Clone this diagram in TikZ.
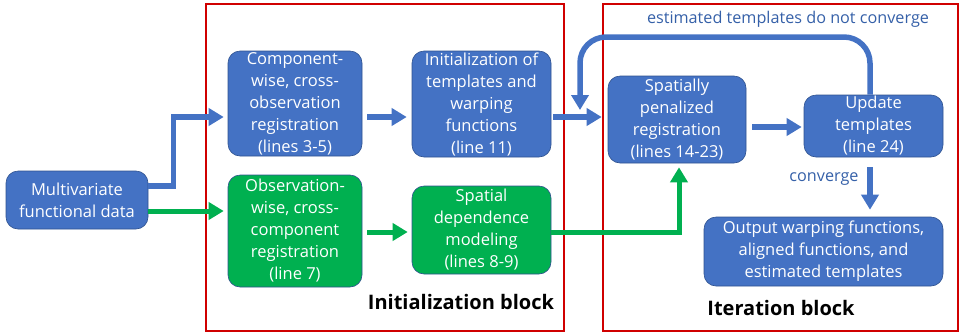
\documentclass[tikz,border=0pt]{standalone}
\usepackage{fontspec}
\setmainfont{Open Sans}
\usetikzlibrary{arrows.meta,calc}
\definecolor{oblue}{HTML}{4472C4}
\definecolor{oedge}{HTML}{2F528F}
\definecolor{ogreen}{HTML}{00B050}
\definecolor{ored}{HTML}{D00000}
\definecolor{otext}{HTML}{3560A8}
\tikzset{
  bx/.style={draw=oedge, line width=0.6pt, rounded corners=12pt, text=white, align=center, inner sep=0pt,
    font=\fontsize{16.5}{22}\selectfont},
  bbox/.style={bx, fill=oblue},
  gbox/.style={bx, fill=ogreen},
  barrow/.style={draw=oblue, line width=5.5pt, -{Triangle[length=15pt,width=17pt]}},
  garrow/.style={draw=ogreen, line width=5pt, -{Triangle[length=15pt,width=17pt]}},
  blockframe/.style={draw=ored, line width=1.8pt},
  blocktitle/.style={font=\fontsize{20}{24}\selectfont\bfseries, text=black},
  lbl/.style={text=otext, font=\fontsize{16.2}{20}\selectfont}
}
\begin{document}
\begin{tikzpicture}[x=1pt,y=-1pt]
\useasboundingbox (0,0) rectangle (959,333);
% frames
\draw[blockframe] (206,4) rectangle (564,331);
\draw[blockframe] (603,4) rectangle (958,331);
\node[blocktitle] (t1) at (461,302) {Initialization block};
\node[blocktitle] (t2) at (781,308) {Iteration block};
% boxes
\node[bbox, minimum width=142pt, minimum height=58pt] (mv) at (77,200) {Multivariate\\functional data};
\node[bbox, minimum width=134pt, minimum height=105pt] (comp) at (295,103.5) {Component-\\wise, cross-\\observation\\registration\\(lines 3-5)};
\node[bbox, minimum width=139pt, minimum height=106pt] (init) at (481.5,104) {Initialization of\\templates and\\warping\\functions\\(line 11)};
\node[gbox, minimum width=134pt, minimum height=112pt] (obs) at (295,231) {Observation-\\wise, cross-\\component\\registration\\(line 7)};
\node[gbox, minimum width=139pt, minimum height=88pt] (sd) at (481.5,230) {Spatial\\dependence\\modeling\\(lines 8-9)};
\node[bbox, minimum width=138pt, minimum height=87pt] (sp) at (677,119.5) {Spatially\\penalized\\registration\\(lines 14-23)};
\node[bbox, minimum width=139pt, minimum height=62pt] (up) at (873.5,126) {Update\\templates\\(line 24)};
\node[bbox, minimum width=239pt, minimum height=69pt] (out) at (823.5,251.5) {Output warping functions,\\aligned functions, and\\estimated templates};
% labels
\node[lbl] (l1) at (788,19) {estimated templates do not converge};
\node[lbl] (l2) at (824,179) {converge};
% connectors
\coordinate (b1) at ([yshift=14pt]mv.east);
\draw[barrow, shorten >=4pt] (b1) -- ++(25,0) |- ([yshift=-13.5pt]comp.west);
\coordinate (g1) at ([yshift=-11pt]mv.east);
\draw[garrow, shorten >=4pt] (g1) -- (g1 -| obs.west);
\coordinate (b2) at ([yshift=-13.5pt]comp.east);
\draw[barrow, shorten <=5pt, shorten >=5pt] (b2) -- (b2 -| init.west);
\coordinate (b3) at ([yshift=-13pt]init.east);
\draw[barrow, shorten <=2pt, shorten >=6pt] (b3) -- (b3 -| sp.west);
\coordinate (g2) at ([yshift=-1pt]obs.east);
\draw[garrow, shorten <=5pt, shorten >=4pt] (g2) -- (g2 -| sd.west);
\coordinate (g3) at ([yshift=-2pt]sd.east);
\draw[garrow, shorten >=4pt] (g3) -| ([xshift=2pt]sp.south);
\coordinate (b4) at ([yshift=-7.5pt]sp.east);
\draw[barrow, shorten <=6pt, shorten >=2pt] (b4) -- (b4 -| up.west);
\coordinate (fbtop) at ([xshift=-3.5pt]up.north |- 0,37);
\coordinate (fbend) at (580,110);
\draw[barrow, rounded corners=26pt] ([xshift=-3.5pt]up.north) -- (fbtop) -- (fbend |- fbtop) -- (fbend);
\coordinate (b5) at ([xshift=-3.5pt]up.south);
\draw[barrow, shorten <=10pt, shorten >=7pt] (b5) -- (b5 |- out.north);
\end{tikzpicture}
\end{document}
